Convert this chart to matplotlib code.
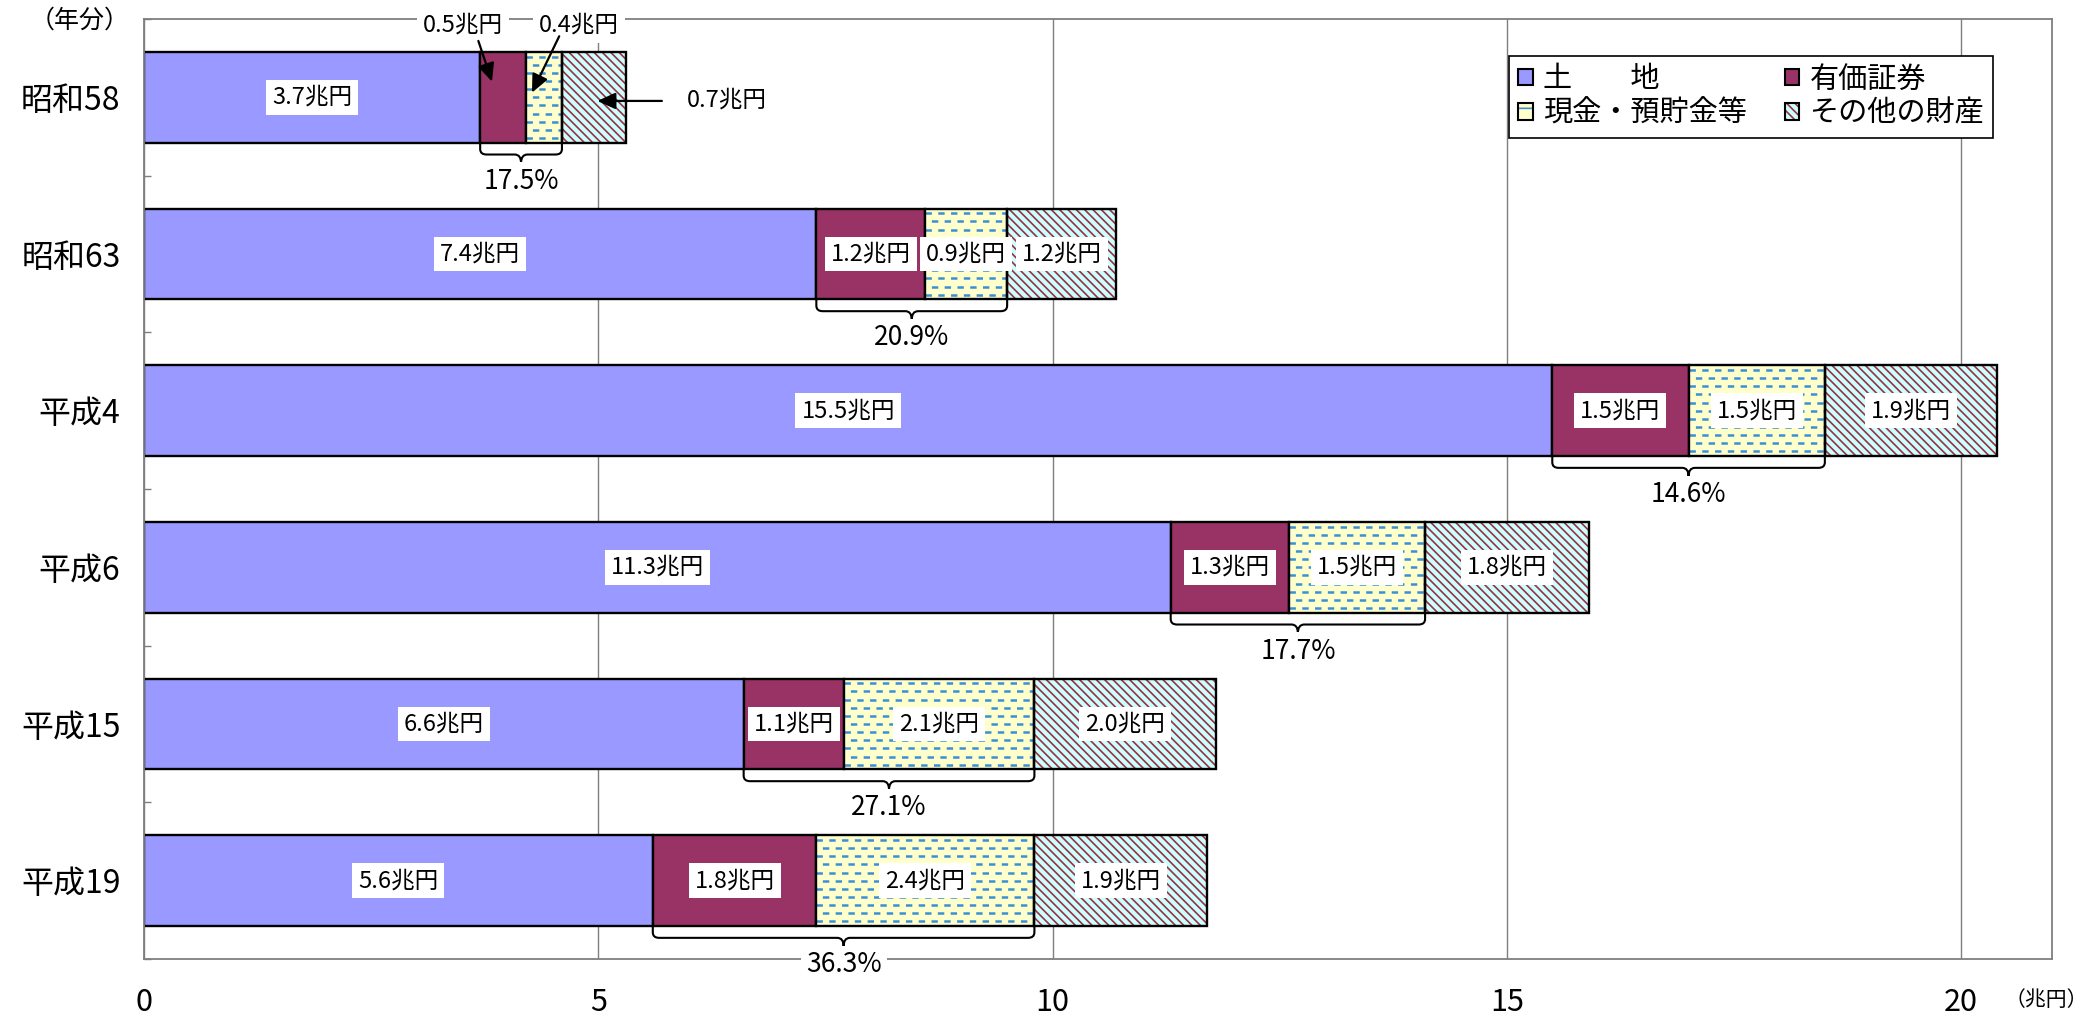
import numpy as np
import matplotlib
matplotlib.use('Agg')
import matplotlib.pyplot as plt
from matplotlib.patches import Patch, PathPatch
from matplotlib.path import Path

plt.rcParams['font.family'] = ['Noto Sans CJK JP', 'DejaVu Sans']
plt.rcParams['hatch.linewidth'] = 1.2
plt.rcParams['lines.scale_dashes'] = False

# data (兆円)
years = ['昭和58', '昭和63', '平成4', '平成6', '平成15', '平成19']
land = [3.7, 7.4, 15.5, 11.3, 6.6, 5.6]
securities = [0.5, 1.2, 1.5, 1.3, 1.1, 1.8]
cash = [0.4, 0.9, 1.5, 1.5, 2.1, 2.4]
other = [0.7, 1.2, 1.9, 1.8, 2.0, 1.9]
share = [17.5, 20.9, 14.6, 17.7, 27.1, 36.3]
xticks = [0, 5, 10, 15, 20]
legend_labels = ['土\u3000\u3000地', '有価証券', '現金・預貯金等', 'その他の財産']

C_LAND = '#9999FF'
C_SEC = '#993366'
C_CASH = '#FFFFCC'
C_DASH = '#3A8FD8'
C_OTHER = '#CCFFFF'
C_HATCH = '#9B3040'
GRAY = '#7f7f7f'
EDGE_LW = 1.7
H = 0.58
HATCH = '\\' * 4

fig = plt.figure(figsize=(20.92, 10.18), dpi=100)
ax = fig.add_axes([144 / 2092, 1 - 959 / 1018, 1908 / 2092, 940 / 1018])

y = np.arange(len(years))
land_a = np.array(land)
sec_a = np.array(securities)
cash_a = np.array(cash)
other_a = np.array(other)
left_cash = land_a + sec_a
left_other = left_cash + cash_a

ax.barh(y, land_a, height=H, color=C_LAND, edgecolor='black', linewidth=EDGE_LW, zorder=2)
ax.barh(y, sec_a, left=land_a, height=H, color=C_SEC, edgecolor='black', linewidth=EDGE_LW, zorder=2)
ax.barh(y, cash_a, left=left_cash, height=H, color=C_CASH, linewidth=0, zorder=2)
ax.barh(y, other_a, left=left_other, height=H, color=C_OTHER, edgecolor=C_HATCH,
        hatch=HATCH, linewidth=0, zorder=2)

# dashed texture on cash segments
for i in range(len(years)):
    rows = np.arange(y[i] - H / 2 + 0.03, y[i] + H / 2 - 0.01, 0.052)
    for k, r in enumerate(rows):
        ax.plot([left_cash[i], left_other[i]], [r, r], color=C_DASH, lw=1.8,
                linestyle=((k % 2) * 4.6, (4.6, 4.6)), dash_capstyle='butt', zorder=2.1)

ax.barh(y, cash_a, left=left_cash, height=H, fill=False, edgecolor='black', linewidth=EDGE_LW, zorder=2.3)
ax.barh(y, other_a, left=left_other, height=H, fill=False, edgecolor='black', linewidth=EDGE_LW, zorder=2.3)

lab_kw = dict(ha='center', va='center', fontsize=17, zorder=4,
              bbox=dict(boxstyle='square,pad=0.25', fc='white', ec='none'))
for i in range(len(years)):
    ax.text(land_a[i] / 2, y[i], f'{land_a[i]:.1f}兆円', **lab_kw)
    if i == 0:
        continue
    ax.text(land_a[i] + sec_a[i] / 2, y[i], f'{sec_a[i]:.1f}兆円', **lab_kw)
    ax.text(left_cash[i] + cash_a[i] / 2, y[i], f'{cash_a[i]:.1f}兆円', **lab_kw)
    ax.text(left_other[i] + other_a[i] / 2, y[i], f'{other_a[i]:.1f}兆円', **lab_kw)

# 昭和58: small segments labelled outside with arrows
arr = dict(arrowstyle='-|>,head_length=0.55,head_width=0.25', color='black',
           lw=1.6, mutation_scale=20, shrinkA=0, shrinkB=0)
ax.text(3.51, -0.46, f'{securities[0]:.1f}兆円', **lab_kw)
ax.annotate('', xy=(3.83, -0.10), xytext=(3.68, -0.36), arrowprops=arr, zorder=5)
ax.text(4.79, -0.46, f'{cash[0]:.1f}兆円', **lab_kw)
ax.annotate('', xy=(4.27, -0.03), xytext=(4.57, -0.39), arrowprops=arr, zorder=5)
ax.text(5.98, 0.02, f'{other[0]:.1f}兆円', ha='left', va='center', fontsize=17, zorder=4)
ax.annotate('', xy=(4.99, 0.023), xytext=(5.70, 0.023), arrowprops=arr, zorder=5)


def draw_brace(x0, x1, yc):
    ytop = yc + H / 2
    ymid = yc + 0.365
    ytip = yc + 0.42
    xm = (x0 + x1) / 2
    rx, ry = 0.07, 0.035
    verts = [(x0, ytop), (x0, ymid - ry), (x0, ymid), (x0 + rx, ymid),
             (xm - rx, ymid), (xm, ymid), (xm, ytip),
             (xm, ymid), (xm + rx, ymid), (x1 - rx, ymid),
             (x1, ymid), (x1, ymid - ry), (x1, ytop)]
    codes = [Path.MOVETO, Path.LINETO, Path.CURVE3, Path.CURVE3,
             Path.LINETO, Path.CURVE3, Path.CURVE3,
             Path.CURVE3, Path.CURVE3, Path.LINETO,
             Path.CURVE3, Path.CURVE3, Path.LINETO]
    ax.add_patch(PathPatch(Path(verts, codes), fill=False, ec='black', lw=1.5, zorder=3))


for i in range(len(years)):
    draw_brace(land_a[i], left_other[i], y[i])
    ax.text((land_a[i] + left_other[i]) / 2, y[i] + 0.535, f'{share[i]:.1f}%',
            ha='center', va='center', fontsize=19, zorder=4,
            bbox=dict(boxstyle='square,pad=0.2', fc='white', ec='none'))

ax.set_xlim(0, 21)
ax.set_ylim(len(years) - 0.5, -0.5)
ax.set_xticks(xticks)
ax.set_xticklabels([str(v) for v in xticks])
ax.set_yticks(y)
ax.set_yticklabels(years)
ax.set_yticks(np.arange(-0.5, len(years), 1.0), minor=True)
ax.tick_params(axis='x', length=0, pad=20, labelsize=22)
ax.tick_params(axis='y', which='major', length=0, pad=17, labelsize=23)
ax.tick_params(axis='y', which='minor', direction='in', length=5, width=1, color=GRAY)
ax.xaxis.grid(True, color=GRAY, lw=1.0)
ax.set_axisbelow(True)
for s in ax.spines.values():
    s.set_color(GRAY)
    s.set_linewidth(1.3)

# legend (column-major order for ncol=2)
h_land = Patch(fc=C_LAND, ec='black', lw=1.5)
h_sec = Patch(fc=C_SEC, ec='black', lw=1.5)
h_cash = (Patch(fc=C_CASH, ec=C_DASH, hatch='-', lw=0), Patch(fill=False, ec='black', lw=1.5))
h_other = (Patch(fc=C_OTHER, ec=C_HATCH, hatch=HATCH, lw=0), Patch(fill=False, ec='black', lw=1.5))
leg = ax.legend([h_land, h_cash, h_sec, h_other],
                [legend_labels[0], legend_labels[2], legend_labels[1], legend_labels[3]],
                ncol=2, loc='upper right', bbox_to_anchor=(0.969, 0.961), borderaxespad=0,
                fontsize=21, handlelength=0.5, handleheight=0.5, handletextpad=0.35,
                columnspacing=1.3, labelspacing=0.15, borderpad=0.3,
                fancybox=False, framealpha=1, edgecolor='black')
leg.get_frame().set_linewidth(1.2)

fig.text(80 / 2092, 1 - 21 / 1018, '（年分）', ha='center', va='center', fontsize=18)
fig.text(2088 / 2092, 1 - 1000 / 1018, '（兆円）', ha='right', va='center', fontsize=15)

fig.savefig('out.png', dpi=100)
